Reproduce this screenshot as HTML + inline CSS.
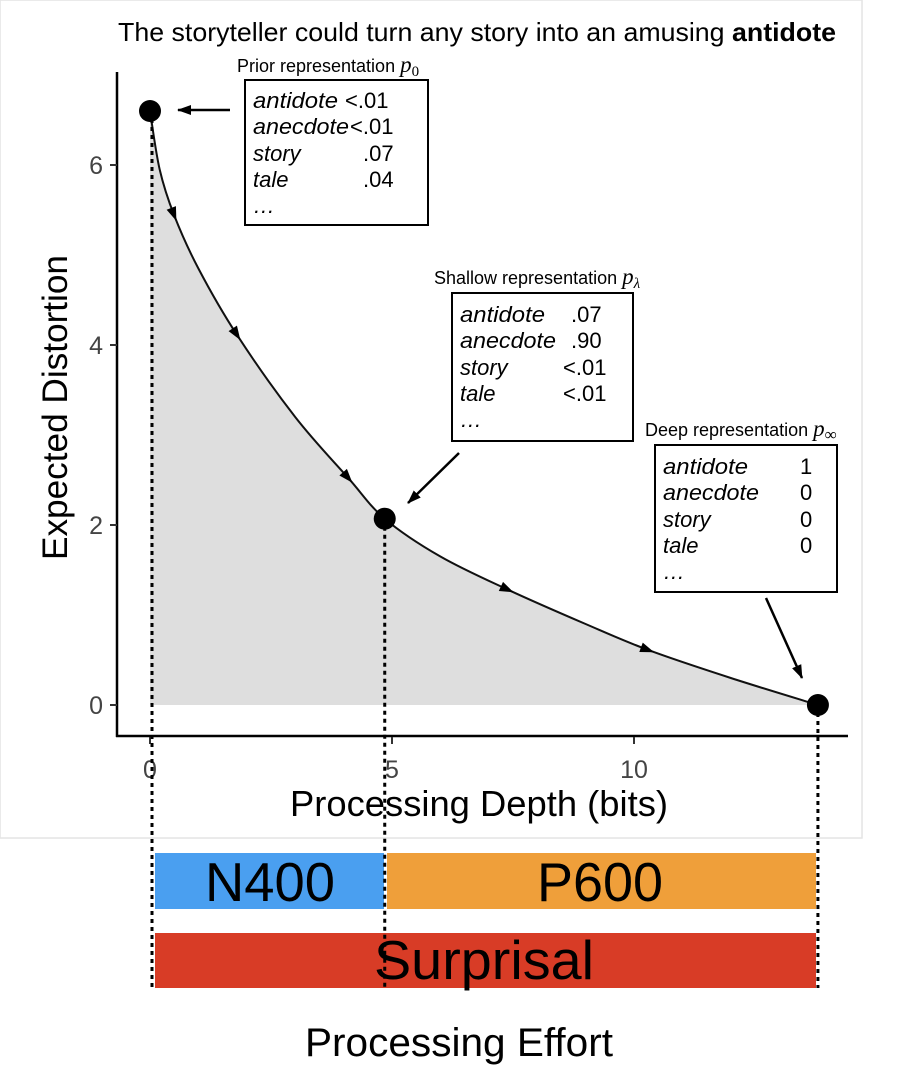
<!DOCTYPE html>
<html><head><meta charset="utf-8"><style>
body{margin:0;background:#fff;}
svg text{font-family:"Liberation Sans",sans-serif;}
</style></head><body>
<svg id="c" width="920" height="1076" viewBox="0 0 920 1076" xmlns="http://www.w3.org/2000/svg">
<rect x="0" y="0" width="862" height="838" fill="#fff" stroke="#e4e4e4" stroke-width="1.5"/>
<text x="118" y="41" font-size="26" textLength="718" lengthAdjust="spacingAndGlyphs">The storyteller could turn any story into an amusing <tspan font-weight="bold">antidote</tspan></text>
<g id="marks"></g>
<line x1="117" y1="72" x2="117" y2="737" stroke="#000" stroke-width="2.5"/>
<line x1="116" y1="736" x2="848" y2="736" stroke="#000" stroke-width="2.5"/>
<g id="axes"></g>
<text transform="translate(67,255) rotate(-90)" font-size="35" text-anchor="end" textLength="305" lengthAdjust="spacingAndGlyphs" x="0" y="0">Expected Distortion</text>
<text x="290" y="816" font-size="36" textLength="378" lengthAdjust="spacingAndGlyphs">Processing Depth (bits)</text>

<g>
<text x="237" y="72" font-size="18">Prior representation <tspan font-family="Liberation Serif" font-style="italic" font-size="23">p</tspan><tspan font-family="Liberation Serif" font-size="15" dy="4">0</tspan></text>
<rect x="245" y="80" width="183" height="145" fill="#fff" stroke="#000" stroke-width="2"/>
<g font-size="22"><text x="253" y="108" font-style="italic" textLength="85" lengthAdjust="spacingAndGlyphs">antidote</text><text x="345" y="108">&lt;.01</text>
<text x="253" y="134" font-style="italic" textLength="96" lengthAdjust="spacingAndGlyphs">anecdote</text><text x="350" y="134">&lt;.01</text>
<text x="253" y="161" font-style="italic">story</text><text x="363" y="161">.07</text>
<text x="253" y="187" font-style="italic">tale</text><text x="363" y="187">.04</text>
<text x="253" y="213" font-style="italic">…</text></g>
</g>
<g>
<text x="434" y="284" font-size="18">Shallow representation <tspan font-family="Liberation Serif" font-style="italic" font-size="23">p</tspan><tspan font-family="Liberation Serif" font-style="italic" font-size="15" dy="4">λ</tspan></text>
<rect x="452" y="293" width="181" height="148" fill="#fff" stroke="#000" stroke-width="2"/>
<g font-size="22"><text x="460" y="322" font-style="italic" textLength="85" lengthAdjust="spacingAndGlyphs">antidote</text><text x="571" y="322">.07</text>
<text x="460" y="348" font-style="italic" textLength="96" lengthAdjust="spacingAndGlyphs">anecdote</text><text x="571" y="348">.90</text>
<text x="460" y="375" font-style="italic">story</text><text x="563" y="375">&lt;.01</text>
<text x="460" y="401" font-style="italic">tale</text><text x="563" y="401">&lt;.01</text>
<text x="460" y="427" font-style="italic">…</text></g>
</g>
<g>
<text x="645" y="436" font-size="18">Deep representation <tspan font-family="Liberation Serif" font-style="italic" font-size="23">p</tspan><tspan font-family="Liberation Serif" font-size="17" dy="4">∞</tspan></text>
<rect x="655" y="445" width="182" height="147" fill="#fff" stroke="#000" stroke-width="2"/>
<g font-size="22"><text x="663" y="474" font-style="italic" textLength="85" lengthAdjust="spacingAndGlyphs">antidote</text><text x="800" y="474">1</text>
<text x="663" y="500" font-style="italic" textLength="96" lengthAdjust="spacingAndGlyphs">anecdote</text><text x="800" y="500">0</text>
<text x="663" y="527" font-style="italic">story</text><text x="800" y="527">0</text>
<text x="663" y="553" font-style="italic">tale</text><text x="800" y="553">0</text>
<text x="663" y="579" font-style="italic">…</text></g>
</g>
<defs><marker id="ah" markerWidth="14" markerHeight="12" refX="13" refY="6" orient="auto" markerUnits="userSpaceOnUse"><path d="M0,1 L14,6 L0,11 z" fill="#000"/></marker></defs>
<line x1="230" y1="110" x2="178" y2="110" stroke="#000" stroke-width="2.5" marker-end="url(#ah)"/>
<line x1="459" y1="453" x2="408" y2="503" stroke="#000" stroke-width="2.5" marker-end="url(#ah)"/>
<line x1="766" y1="598" x2="802" y2="678" stroke="#000" stroke-width="2.5" marker-end="url(#ah)"/>

<rect x="155" y="853" width="229" height="56" fill="#4a9ff0"/>
<rect x="387" y="853" width="429" height="56" fill="#ef9f3a"/>
<rect x="155" y="933" width="661" height="55" fill="#d83c26"/>
<text x="205" y="901" font-size="55" textLength="130" lengthAdjust="spacingAndGlyphs">N400</text>
<text x="537" y="901" font-size="55" textLength="126" lengthAdjust="spacingAndGlyphs">P600</text>
<text x="374" y="979" font-size="55" textLength="220" lengthAdjust="spacingAndGlyphs">Surprisal</text>
<text x="305" y="1056" font-size="40" textLength="308" lengthAdjust="spacingAndGlyphs">Processing Effort</text>
<g id="guides"></g>
</svg>
<script>
const curveX=[0,0.2,0.5,1.0,1.8,3.0,4.1,4.85,6.0,7.4,9.0,10.3,12.0,13.8];
const curveY=[6.6,5.95,5.44,4.85,4.11,3.2,2.52,2.07,1.65,1.28,0.9,0.61,0.3,0];
const pointX=[0,4.85,13.8];
const pointY=[6.6,2.07,0];
const arrowIdx=[2,4,6,9,11];
const xTicks=[0,5,10];
const yTicks=[0,2,4,6];
const NS="http://www.w3.org/2000/svg";
const sx=v=>150+v*48.4;
const sy=v=>705-v*90;
function mk(t,a,p){const e=document.createElementNS(NS,t);for(const k in a)e.setAttribute(k,a[k]);p.appendChild(e);return e;}
const marks=document.getElementById('marks');
const axes=document.getElementById('axes');
const guides=document.getElementById('guides');
const P=curveX.map((x,i)=>[sx(x),sy(curveY[i])]);
function smooth(){
  let s='';
  for(let i=0;i<P.length-1;i++){
    const p0=P[Math.max(0,i-1)],p1=P[i],p2=P[i+1],p3=P[Math.min(P.length-1,i+2)];
    const c1=[p1[0]+(p2[0]-p0[0])/6,p1[1]+(p2[1]-p0[1])/6];
    const c2=[p2[0]-(p3[0]-p1[0])/6,p2[1]-(p3[1]-p1[1])/6];
    s+=' C'+c1[0]+','+c1[1]+' '+c2[0]+','+c2[1]+' '+p2[0]+','+p2[1];
  }
  return s;
}
const sm=smooth();
const area=mk('path',{d:'M'+P[0][0]+','+sy(0)+' L'+P[0][0]+','+P[0][1]+sm+' L'+P[P.length-1][0]+','+sy(0)+' Z',fill:'#dedede'},marks);


const line=mk('path',{d:'M'+P[0][0]+','+P[0][1]+sm,fill:'none',stroke:'#111','stroke-width':2},marks);


arrowIdx.forEach(i=>{
  const x0=sx(curveX[i-1]),y0=sy(curveY[i-1]),x2=sx(curveX[i+1]),y2=sy(curveY[i+1]);
  const x1=sx(curveX[i]),y1=sy(curveY[i]);
  const ang=Math.atan2(y2-y0,x2-x0)*180/Math.PI;
  const a=mk('path',{d:'M-8,-5 L6,0 L-8,5 z',fill:'#000',transform:'translate('+x1+','+y1+') rotate('+ang+')'},marks);
  
  
});
pointX.forEach((x,i)=>{
  const gx=sx(x)+(i==0?2:0);
  const g=mk('line',{x1:gx,y1:sy(pointY[i]),x2:gx,y2:988,stroke:'#000','stroke-width':3,'stroke-dasharray':'4,4'},guides);
  
  
  const c=mk('circle',{cx:sx(x),cy:sy(pointY[i]),r:11,fill:'#000'},marks);
  
  
});
xTicks.forEach(v=>{
  const t=mk('line',{x1:sx(v),y1:737,x2:sx(v),y2:744,stroke:'#333','stroke-width':2},axes);
  
  
  const tx=mk('text',{x:sx(v),y:778,'font-size':25,'text-anchor':'middle',fill:'#444'},axes);
  tx.textContent=v;
  
  
});
yTicks.forEach(v=>{
  const t=mk('line',{x1:110,y1:sy(v),x2:117,y2:sy(v),stroke:'#333','stroke-width':2},axes);
  
  
  const tx=mk('text',{x:103,y:sy(v)+9,'font-size':25,'text-anchor':'end',fill:'#444'},axes);
  tx.textContent=v;
  
  
});
</script>
</body></html>
